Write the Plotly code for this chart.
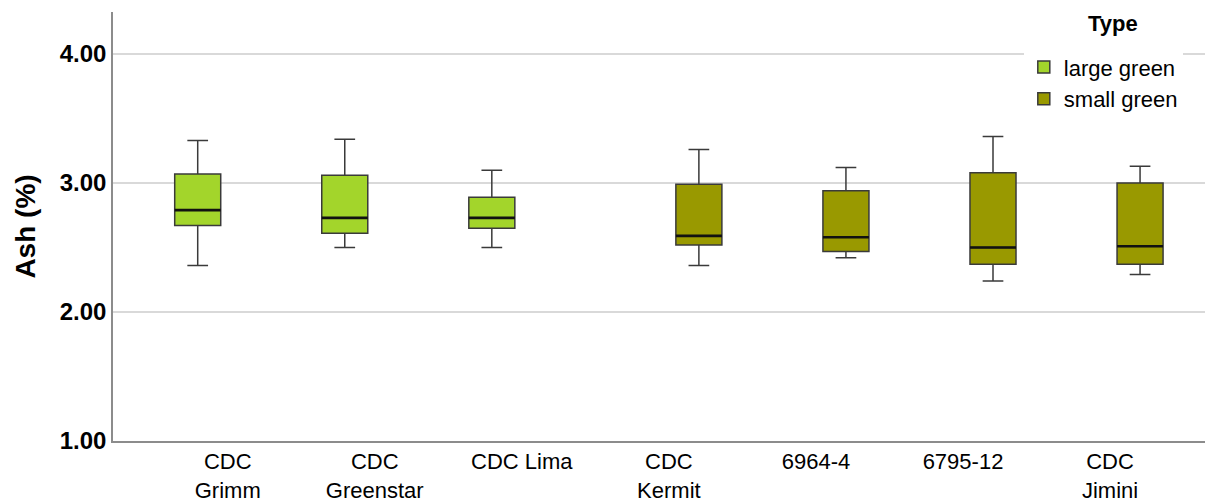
import plotly.graph_objects as go

categories = ["CDC<br>Grimm", "CDC<br>Greenstar", "CDC Lima", "CDC<br>Kermit", "6964-4", "6795-12", "CDC<br>Jimini"]
types = ["large green", "large green", "large green", "small green", "small green", "small green", "small green"]
lower = [2.36, 2.50, 2.50, 2.36, 2.42, 2.24, 2.29]
q1 = [2.67, 2.61, 2.65, 2.52, 2.47, 2.37, 2.37]
median = [2.79, 2.73, 2.73, 2.59, 2.58, 2.50, 2.51]
q3 = [3.07, 3.06, 2.89, 2.99, 2.94, 3.08, 3.00]
upper = [3.33, 3.34, 3.10, 3.26, 3.12, 3.36, 3.13]
colors = {"large green": "#a3d52b", "small green": "#999900"}

FONT = "Arial, Liberation Sans, sans-serif"

fig = go.Figure()
for t in ["large green", "small green"]:
    idx = [i for i, tt in enumerate(types) if tt == t]
    xs = [categories[i] for i in idx]
    fig.add_trace(go.Box(
        name=t, legendgroup=t, offsetgroup=t,
        x=xs,
        q1=[q1[i] for i in idx],
        median=[median[i] for i in idx],
        q3=[q3[i] for i in idx],
        lowerfence=[lower[i] for i in idx],
        upperfence=[upper[i] for i in idx],
        fillcolor=colors[t],
        line=dict(color="#3a3a3a", width=1.5),
        whiskerwidth=0.45,
        boxpoints=False,
        hoverinfo="skip",
    ))
    # thicker median line overlay
    med = [median[i] for i in idx]
    fig.add_trace(go.Box(
        name=t, legendgroup=t, offsetgroup=t, showlegend=False,
        x=xs, q1=med, median=med, q3=med, lowerfence=med, upperfence=med,
        fillcolor="rgba(0,0,0,0)",
        line=dict(color="#111111", width=2.6),
        whiskerwidth=0,
        boxpoints=False,
        hoverinfo="skip",
    ))

# page body has an 8px default margin; compensate in figure size/margins
fig.update_layout(
    width=1205, height=494,
    margin=dict(l=105, r=0, t=4, b=61),
    paper_bgcolor="white", plot_bgcolor="white",
    boxmode="group", boxgap=0.184, boxgroupgap=0.233,
    font=dict(family=FONT, color="black"),
    showlegend=True,
    legend=dict(
        x=0.828, y=0.92, xanchor="left", yanchor="top",
        bgcolor="white",
        font=dict(size=22, family=FONT),
        tracegroupgap=0, itemwidth=30,
    ),
    annotations=[dict(
        text="Type", xref="paper", yref="paper", x=0.9095, y=1.006,
        xanchor="center", yanchor="top", showarrow=False,
        font=dict(size=22, family=FONT, weight="bold"),
    )],
    xaxis=dict(
        type="category", categoryorder="array", categoryarray=categories,
        range=[-0.78, 6.70], automargin=False,
        showline=True, linecolor="#8c8c8c", linewidth=1.5,
        showgrid=False, ticks="",
        tickfont=dict(size=22, family=FONT),
    ),
    yaxis=dict(
        range=[1.0, 4.326], automargin=False,
        tickvals=[1, 2, 3, 4], tickformat=".2f",
        showline=True, linecolor="#8c8c8c", linewidth=1.5,
        showgrid=True, gridcolor="#d9d9d9", gridwidth=1.5,
        zeroline=False, ticks="",
        tickfont=dict(size=24, family=FONT, weight="bold"),
        title=dict(text="Ash (%)", font=dict(size=28, family=FONT, weight="bold"), standoff=16),
    ),
)

fig.write_html("out.html")
